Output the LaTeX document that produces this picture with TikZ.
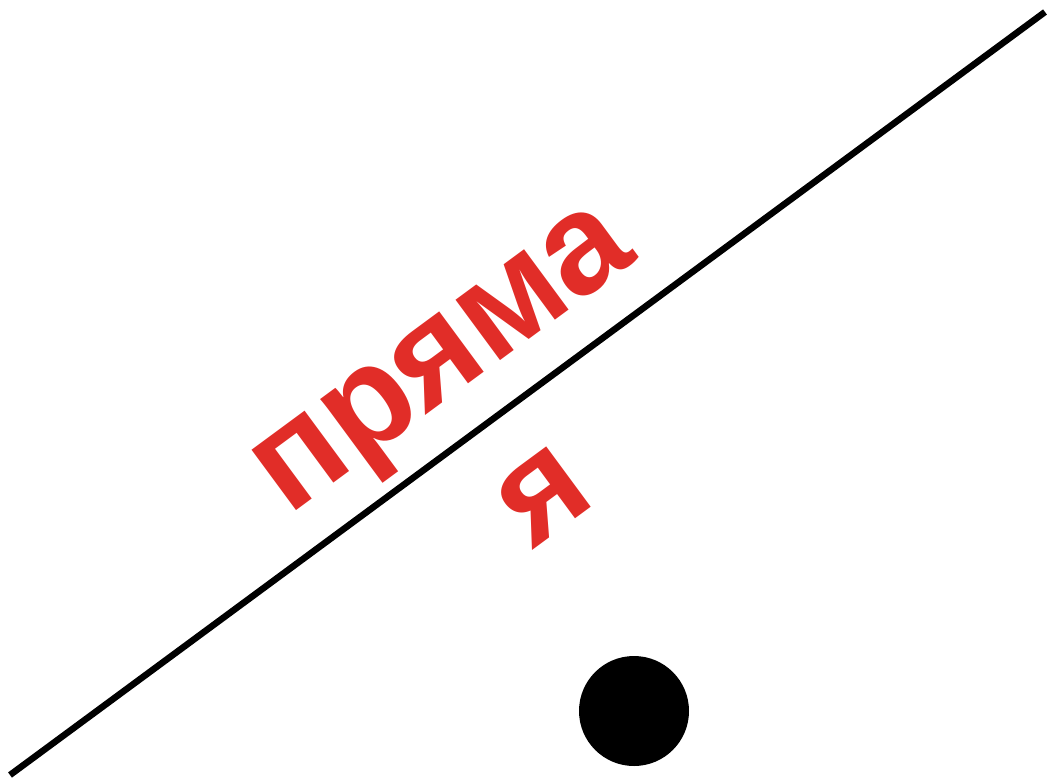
\documentclass[tikz,border=0pt]{standalone}
\usepackage{fontspec}
\setmainfont{Liberation Sans}
\begin{document}
\begin{tikzpicture}[x=1pt,y=-1pt,
  lbl/.style={font=\bfseries\fontsize{142}{172}\selectfont, align=center, inner sep=0pt},
  dotst/.style={circle, fill=black, minimum size=110pt, inner sep=0pt}]
\definecolor{lblred}{RGB}{225,45,40}
\useasboundingbox (0,0) rectangle (1049,782);
\coordinate (a) at (10,775);
\coordinate (b) at (1045,12);
\draw[line width=6.5pt] (a) -- (b);
\node[lbl, text=lblred, rotate=36.4] (t) at (492,426) {пряма\\я};
\node[dotst] (d) at (634,711) {};
\end{tikzpicture}
\end{document}
